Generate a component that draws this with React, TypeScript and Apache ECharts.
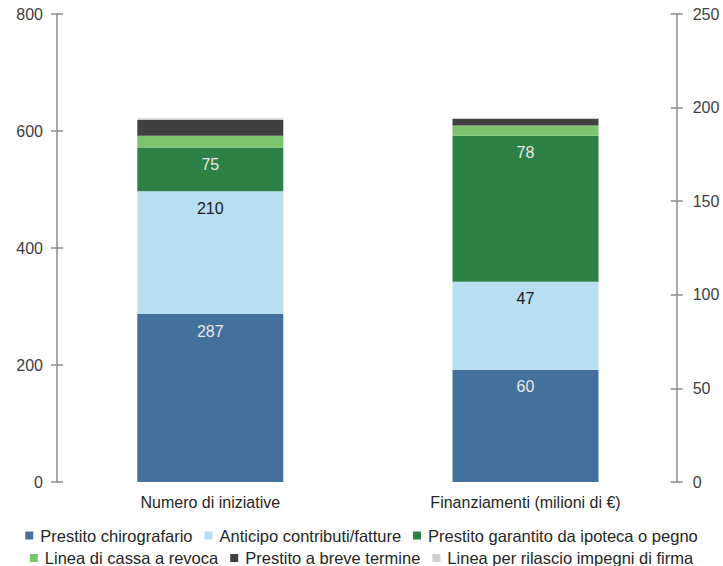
import React, { useEffect, useRef } from "react";
import * as echarts from "echarts";

const categories = ["Numero di iniziative", "Finanziamenti (milioni di €)"];
const seriesNames = [
  "Prestito chirografario",
  "Anticipo contributi/fatture",
  "Prestito garantito da ipoteca o pegno",
  "Linea di cassa a revoca",
  "Prestito a breve termine",
  "Linea per rilascio impegni di firma",
];
const colors = ["#43709d", "#b8def2", "#2e8146", "#7cc46e", "#404040", "#d0d0d0"];
const numeroValues = [287, 210, 75, 20, 27, 3];
const finanziamentiValues = [60, 47, 78, 5.5, 3.6, 0.5];
const labelColors = ["#e8e8e8", "#1a1a1a", "#e8e8e8", null, null, null];

const leftTicks = { min: 0, max: 800, interval: 200 };
const rightTicks = { min: 0, max: 250, interval: 50 };

const FONT = "'Liberation Sans', Arial, sans-serif";

export default function App() {
  const ref = useRef<HTMLDivElement>(null);
  useEffect(() => {
    if (!ref.current) return;
    const chart = echarts.init(ref.current, null, { renderer: "svg" });

    const makeSeries = (values: number[], axis: number, stack: string, catIndex: number) =>
      values.map((v, i) => ({
        name: seriesNames[i],
        type: "bar",
        stack,
        yAxisIndex: axis,
        barWidth: 146,
        barGap: "-100%",
        itemStyle: { color: colors[i] },
        data: categories.map((_, c) => (c === catIndex ? v : "-")),
        label: labelColors[i]
          ? {
              show: true,
              position: "insideTop",
              distance: 9,
              color: labelColors[i],
              fontSize: 16,
              fontFamily: FONT,
            }
          : { show: false },
      }));

    const axisCommon = {
      type: "value",
      splitLine: { show: false },
      axisLine: { show: true, lineStyle: { color: "#8c8c8c", width: 1.5 } },
      axisTick: { show: true, length: 6, lineStyle: { color: "#8c8c8c", width: 1.5 } },
      axisLabel: { color: "#404040", fontSize: 16, fontFamily: FONT },
    };

    const hiddenInside = (pos: string, ticks: any, offset: number) => ({
      type: "value",
      position: pos,
      offset,
      ...ticks,
      splitLine: { show: false },
      axisLine: { show: false },
      axisLabel: { show: false },
      axisTick: { show: true, inside: true, length: 6, lineStyle: { color: "#8c8c8c", width: 1.5 } },
    });

    const legendCommon = {
      left: "center",
      icon: "rect",
      itemWidth: 8,
      itemHeight: 8,
      itemGap: 12,
      padding: 0,
      textStyle: {
        color: "#262626",
        fontSize: 16.5,
        lineHeight: 16,
        fontFamily: FONT,
        padding: [0, 0, 0, 2],
      },
    };

    chart.setOption({
      animation: false,
      textStyle: { fontFamily: FONT },
      grid: { left: 52.7, right: 723 - 683.1, top: 14, bottom: 84, containLabel: false },
      xAxis: {
        type: "category",
        data: categories,
        axisLine: { show: false },
        axisTick: { show: false },
        axisLabel: { color: "#262626", fontSize: 16, fontFamily: FONT, margin: 12 },
      },
      yAxis: [
        { ...axisCommon, position: "left", offset: -4.3, ...leftTicks, axisLabel: { ...axisCommon.axisLabel, margin: 14 } },
        { ...axisCommon, position: "right", offset: -6.4, ...rightTicks, axisLabel: { ...axisCommon.axisLabel, margin: 16 } },
        hiddenInside("left", leftTicks, -4.3),
        hiddenInside("right", rightTicks, -6.4),
      ],
      legend: [
        { ...legendCommon, data: seriesNames.slice(0, 3), top: 527 },
        { ...legendCommon, data: seriesNames.slice(3), top: 549.5 },
      ],
      series: [
        ...makeSeries(numeroValues, 0, "numero", 0),
        ...makeSeries(finanziamentiValues, 1, "finanz", 1),
      ],
    } as any);
    return () => chart.dispose();
  }, []);
  return (
    <div
      ref={ref}
      style={{ position: "fixed", left: 0, top: 0, width: 723, height: 566, background: "#fff" }}
    />
  );
}
